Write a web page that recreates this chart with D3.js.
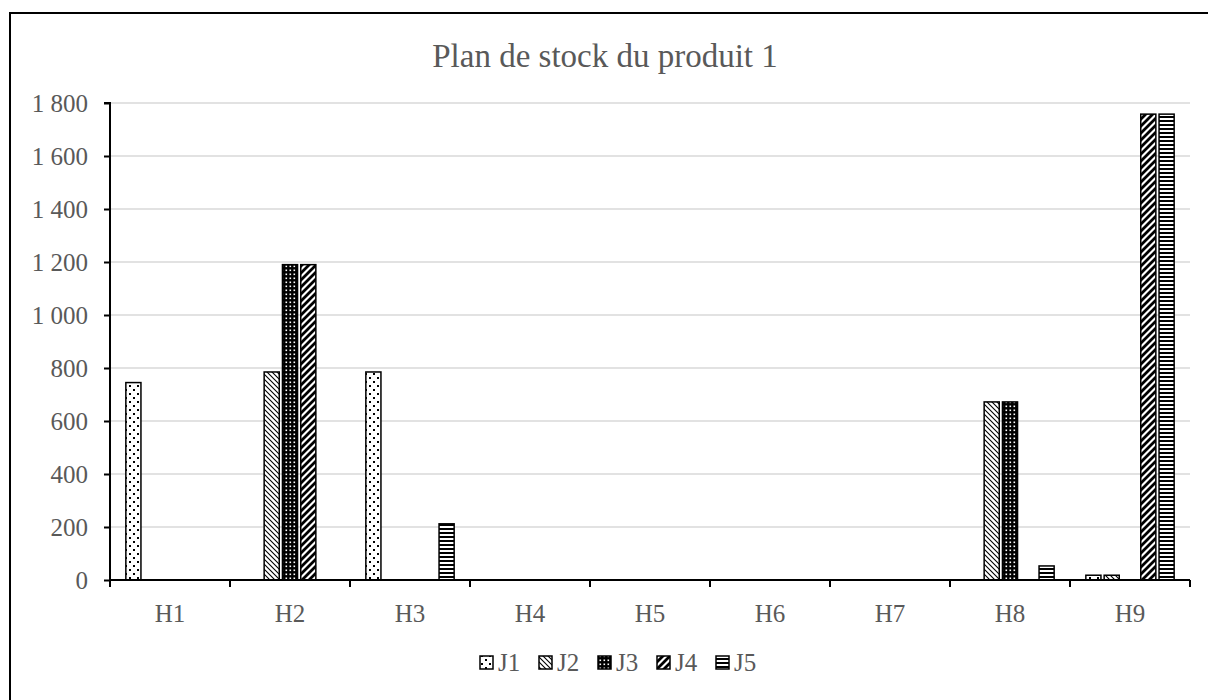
<!DOCTYPE html>
<html>
<head>
<meta charset="utf-8">
<script src="https://cdn.jsdelivr.net/npm/d3@7"></script>
<style>
  html, body { margin: 0; padding: 0; background: #fff; }
  svg { display: block; }
  text { font-family: "Liberation Serif", "Times New Roman", serif; fill: #595959; }
</style>
</head>
<body>
<svg id="chart" width="1208" height="700"></svg>
<script>
const title = "Plan de stock du produit 1";
const categories = ["H1", "H2", "H3", "H4", "H5", "H6", "H7", "H8", "H9"];
const seriesNames = ["J1", "J2", "J3", "J4", "J5"];
const J1 = [745, 0, 785, 0, 0, 0, 0, 0, 18];
const J2 = [0, 785, 0, 0, 0, 0, 0, 672, 18];
const J3 = [0, 1190, 0, 0, 0, 0, 0, 672, 0];
const J4 = [0, 1190, 0, 0, 0, 0, 0, 0, 1758];
const J5 = [0, 0, 212, 0, 0, 0, 0, 53, 1758];
const seriesValues = [J1, J2, J3, J4, J5];
const yTicks = [0, 200, 400, 600, 800, 1000, 1200, 1400, 1600, 1800];

const svg = d3.select("#chart");
const defs = svg.append("defs");

function pat(id, w, h) {
  const p = defs.append("pattern").attr("id", id).attr("patternUnits", "userSpaceOnUse")
    .attr("width", w).attr("height", h);
  p.append("rect").attr("width", w).attr("height", h).attr("fill", "#fff");
  return p;
}
// J1 dotted
let p1 = pat("pJ1", 8, 8);
p1.append("rect").attr("x", 1).attr("y", 1).attr("width", 2).attr("height", 2).attr("fill", "#000");
p1.append("rect").attr("x", 5).attr("y", 5).attr("width", 2).attr("height", 2).attr("fill", "#000");
// J2 light downward diagonal
let p2 = pat("pJ2", 5, 5);
p2.append("path").attr("d", "M-1,-1 L6,6 M-1,4 L1,6 M4,-1 L6,1").attr("stroke", "#000").attr("stroke-width", 1.1);
// J3 dark grid with white dots
let p3 = defs.append("pattern").attr("id", "pJ3").attr("patternUnits", "userSpaceOnUse").attr("width", 4).attr("height", 4);
p3.append("rect").attr("width", 4).attr("height", 4).attr("fill", "#000");
p3.append("rect").attr("x", 1.5).attr("y", 1.5).attr("width", 1.6).attr("height", 1.6).attr("fill", "#fff");
// J4 wide upward diagonal
let p4 = pat("pJ4", 7, 7);
p4.append("path").attr("d", "M-1,8 L8,-1 M-4,4 L4,-4 M3,11 L11,3").attr("stroke", "#000").attr("stroke-width", 2.8);
// J5 horizontal lines
let p5 = pat("pJ5", 4, 4);
p5.append("rect").attr("x", 0).attr("y", 0).attr("width", 4).attr("height", 2).attr("fill", "#000");
const patIds = ["pJ1", "pJ2", "pJ3", "pJ4", "pJ5"];

// Outer border (left and top visible)
svg.append("path").attr("d", "M10,700 L10,13 L1208,13").attr("fill", "none").attr("stroke", "#000").attr("stroke-width", 2);

// Title
svg.append("text").attr("x", 605).attr("y", 67).attr("text-anchor", "middle")
  .attr("font-size", 33).text(title);

// Scales
const x = d3.scaleBand().domain(categories).range([110, 1190]).paddingInner(0).paddingOuter(0);
const xs = d3.scaleBand().domain(seriesNames).range([0, x.bandwidth()]).paddingInner(0.175).paddingOuter(0.866);
const y = d3.scaleLinear().domain([0, 1800]).range([580, 103]);

// Gridlines
svg.append("g").selectAll("line").data(yTicks.filter(d => d > 0)).join("line")
  .attr("x1", 110).attr("x2", 1190)
  .attr("y1", d => y(d)).attr("y2", d => y(d))
  .attr("stroke", "#d9d9d9").attr("stroke-width", 1.5);

// Bars
const data = [];
categories.forEach((c, i) => seriesNames.forEach((s, j) => {
  data.push({ c, s, v: seriesValues[j][i], j });
}));
svg.append("g").selectAll("rect").data(data.filter(d => d.v > 0)).join("rect")
  .attr("x", d => x(d.c) + xs(d.s))
  .attr("y", d => y(d.v))
  .attr("width", xs.bandwidth())
  .attr("height", d => y(0) - y(d.v))
  .attr("fill", d => `url(#${patIds[d.j]})`)
  .attr("stroke", "#000").attr("stroke-width", 1.5);

// Y axis
const yAxis = d3.axisLeft(y).tickValues(yTicks).tickSize(6).tickPadding(16)
  .tickFormat(d => d3.format(",")(d).replace(/,/g, " "));
const gy = svg.append("g").attr("transform", "translate(110,0)").call(yAxis);
gy.select(".domain").attr("stroke", "#000").attr("stroke-width", 2).attr("d", `M-6,${y(1800)}H0V${y(0)}`);
gy.selectAll(".tick line").attr("stroke", "#000").attr("stroke-width", 2);
gy.selectAll(".tick text").attr("font-size", 25).attr("fill", "#595959")
  .attr("font-family", "Liberation Serif, serif");

// X axis
const gx = svg.append("g").attr("transform", "translate(0,580)");
gx.append("line").attr("x1", 110).attr("x2", 1190).attr("stroke", "#000").attr("stroke-width", 2);
const bounds = categories.map(c => x(c)).concat([x.range()[1]]);
gx.selectAll("line.tk").data(bounds).join("line").attr("class", "tk")
  .attr("x1", d => d).attr("x2", d => d).attr("y1", 0).attr("y2", 7)
  .attr("stroke", "#000").attr("stroke-width", 2);
gx.selectAll("text").data(categories).join("text")
  .attr("x", c => x(c) + x.bandwidth() / 2).attr("y", 42)
  .attr("text-anchor", "middle").attr("font-size", 25).text(c => c);

// Legend
const legX0 = 480, legStep = 59, legY = 662;
const leg = svg.append("g");
seriesNames.forEach((s, j) => {
  const g = leg.append("g").attr("transform", `translate(${legX0 + j * legStep},${legY})`);
  g.append("rect").attr("x", 0).attr("y", -6).attr("width", 13).attr("height", 13)
    .attr("fill", `url(#${patIds[j]})`).attr("stroke", "#000").attr("stroke-width", 1.5);
  g.append("text").attr("x", 18).attr("y", 9).attr("font-size", 25).text(s);
});
</script>
</body>
</html>
